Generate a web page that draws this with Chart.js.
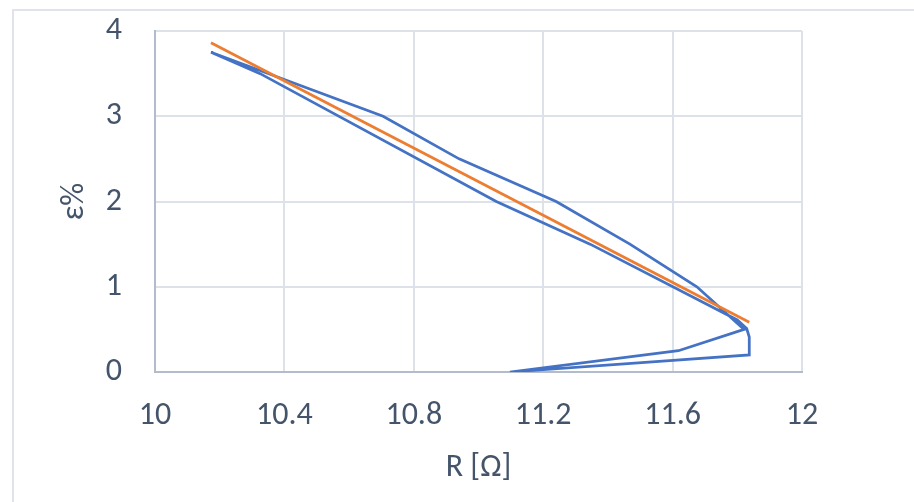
<!DOCTYPE html>
<html>
<head>
<meta charset="utf-8">
<script src="https://cdn.jsdelivr.net/npm/chart.js@4/dist/chart.umd.min.js"></script>
<style>
  html, body { margin: 0; padding: 0; background: #ffffff; overflow: hidden; }
  #frame { position: absolute; left: 12px; top: 9px; width: 1000px; height: 600px; border: 2px solid #e0e3e9; box-sizing: border-box; }
  #wrap { position: absolute; left: 0; top: 0; width: 914px; height: 502px; }
</style>
</head>
<body>
<div id="frame"></div>
<div id="wrap"><canvas id="c" width="914" height="502"></canvas></div>
<script>
// Measured series (R in ohm, strain in %)
const resistance = [11.097, 11.837, 11.837, 11.829, 11.80, 11.345, 11.055, 10.325, 10.173, 10.705, 10.94, 11.24, 11.468, 11.675, 11.821, 11.618, 11.097];
const strain     = [0,      0.2,    0.41,   0.51,   0.61,  1.5,    2.0,    3.5,    3.75,   3.0,    2.5,   2.0,   1.5,    1.0,    0.5,    0.25,   0];
// Linear trend line end points
const trendR = [10.173, 11.837];
const trendE = [3.863, 0.583];
// Axis ticks
const xTickValues = [10, 10.4, 10.8, 11.2, 11.6, 12];
const xTickLabels = ['10', '10.4', '10.8', '11.2', '11.6', '12'];
const yTickValues = [0, 1, 2, 3, 4];
const yTickLabels = ['0', '1', '2', '3', '4'];
const xTitle = 'R [Ω]';
const yTitle = 'ε%';

const FONT = "Carlito, Lato, 'Open Sans', sans-serif";
const FS = 32;
const TEXT = '#44546a';
const GRID = '#dde1e8';
const AXIS = '#b3bccb';

const blueData = resistance.map((r, i) => ({ x: r, y: strain[i] }));
const orangeData = trendR.map((r, i) => ({ x: r, y: trendE[i] }));

new Chart(document.getElementById('c'), {
  type: 'scatter',
  data: {
    datasets: [
      { data: blueData, showLine: true, borderColor: '#4472c4', borderWidth: 2.75, pointRadius: 0, tension: 0, fill: false, order: 2 },
      { data: orangeData, showLine: true, borderColor: '#ed7d31', borderWidth: 2.75, pointRadius: 0, tension: 0, fill: false, order: 1 }
    ]
  },
  options: {
    responsive: false,
    animation: false,
    devicePixelRatio: 1,
    layout: { padding: { left: 0, top: 31, right: 112, bottom: 0 } },
    plugins: { legend: { display: false }, tooltip: { enabled: false } },
    scales: {
      x: {
        type: 'linear', min: 10, max: 12,
        afterBuildTicks: (s) => { s.ticks = xTickValues.map(v => ({ value: v })); },
        afterFit: (s) => { s.height = 130; s.paddingLeft = 0; s.paddingRight = 0; },
        ticks: {
          padding: 25,
          color: TEXT,
          font: { family: FONT, size: FS },
          callback: (v, i) => xTickLabels[i]
        },
        grid: { color: GRID, lineWidth: 2, drawTicks: false },
        border: { display: true, color: AXIS, width: 2 },
        title: { display: true, text: xTitle, color: TEXT, font: { family: FONT, size: FS }, padding: { top: 0, bottom: 15 } }
      },
      y: {
        type: 'linear', min: 0, max: 4,
        afterBuildTicks: (s) => { s.ticks = yTickValues.map(v => ({ value: v })); },
        afterFit: (s) => { s.width = 155; s.paddingTop = 0; s.paddingBottom = 0; },
        ticks: {
          padding: 33,
          color: TEXT,
          font: { family: FONT, size: FS },
          callback: (v, i) => yTickLabels[i]
        },
        grid: { color: GRID, lineWidth: 2, drawTicks: false },
        border: { display: true, color: AXIS, width: 2 },
        title: { display: true, text: yTitle, color: TEXT, font: { family: FONT, size: FS }, padding: { top: 56, bottom: 0 } }
      }
    }
  }
});
</script>
</body>
</html>
